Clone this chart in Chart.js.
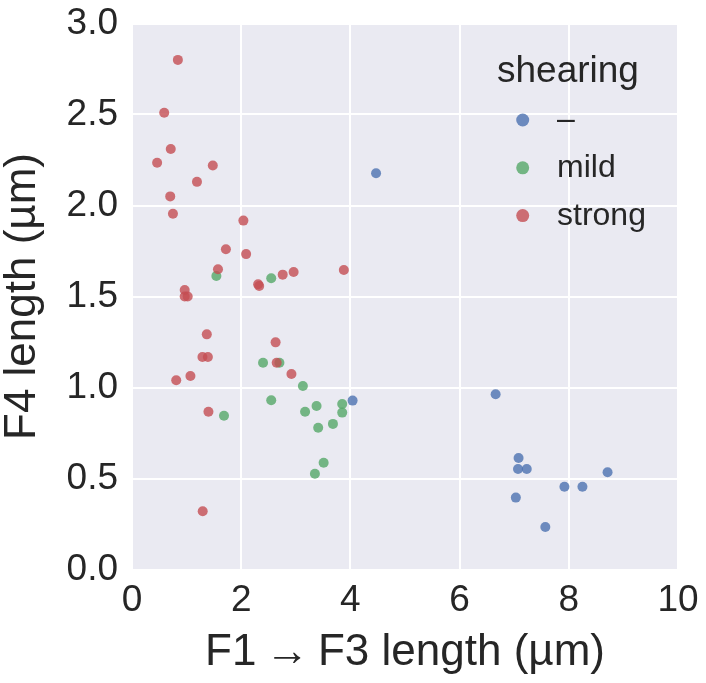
<!DOCTYPE html>
<html>
<head>
<meta charset="utf-8">
<script src="https://cdn.jsdelivr.net/npm/chart.js@4.4.1/dist/chart.umd.min.js"></script>
<style>
  html, body { margin: 0; padding: 0; background: #fff; }
</style>
</head>
<body>
<canvas id="chart" width="706" height="683"></canvas>
<script>
// categories (hue levels)
const shearLevels = ['\u2013', 'mild', 'strong'];

// "–" group
const noneX = [4.47, 4.04, 6.66, 7.08, 7.07, 7.23, 8.71, 7.92, 8.25, 7.03, 7.57];
const noneY = [2.177, 0.928, 0.963, 0.613, 0.552, 0.552, 0.534, 0.455, 0.455, 0.395, 0.234];

// mild group
const mildX = [1.545, 2.55, 2.40, 2.70, 3.13, 2.55, 3.38, 3.85, 3.17, 3.85, 3.41, 3.68, 3.51, 3.35, 1.685];
const mildY = [1.613, 1.60, 1.136, 1.136, 1.008, 0.93, 0.898, 0.909, 0.867, 0.862, 0.779, 0.80, 0.587, 0.526, 0.845];

// strong group
const strongX = [0.84, 0.59, 0.71, 0.46, 1.48, 1.19, 0.70, 0.75, 2.04, 1.72, 2.09, 1.575, 2.31, 2.33, 2.76,
                 2.96, 3.88, 0.965, 0.965, 1.02, 1.37, 2.63, 1.29, 1.39, 2.65, 2.92, 0.81, 1.07, 1.40, 1.295];
const strongY = [2.80, 2.51, 2.31, 2.235, 2.22, 2.13, 2.05, 1.955, 1.917, 1.76, 1.733, 1.65, 1.567, 1.558, 1.62,
                 1.635, 1.646, 1.536, 1.50, 1.50, 1.292, 1.248, 1.168, 1.168, 1.136, 1.074, 1.04, 1.063, 0.867, 0.32];

// tick labels
const xTicks = [0, 2, 4, 6, 8, 10];
const yTicks = ['0.0', '0.5', '1.0', '1.5', '2.0', '2.5', '3.0'];

const colors = ['rgba(76,114,176,0.8)', 'rgba(85,168,104,0.8)', 'rgba(196,78,82,0.8)'];
const FONT = '"Liberation Sans", Arial, sans-serif';
const TXT = '#262626';

const toPoints = (xs, ys) => xs.map((x, i) => ({ x: x, y: ys[i] }));

// grey panel behind the data
const panelBg = {
  id: 'panelBg',
  beforeDraw(chart) {
    const a = chart.chartArea, ctx = chart.ctx;
    ctx.save();
    ctx.fillStyle = '#EAEAF2';
    ctx.fillRect(a.left, a.top, a.right - a.left, a.bottom - a.top);
    ctx.restore();
  }
};

// legend drawn inside the panel, top right
const innerLegend = {
  id: 'innerLegend',
  afterDatasetsDraw(chart) {
    const ctx = chart.ctx;
    ctx.save();
    ctx.fillStyle = TXT;
    ctx.textBaseline = 'alphabetic';
    ctx.textAlign = 'left';
    ctx.font = '37px ' + FONT;
    ctx.fillText('shearing', 497, 82);
    ctx.font = '32px ' + FONT;
    chart.data.datasets.forEach((ds, i) => {
      const y = 120 + i * 47.8;
      ctx.beginPath();
      ctx.arc(522.7, y, 6.5, 0, Math.PI * 2);
      ctx.fillStyle = ds.backgroundColor;
      ctx.fill();
      ctx.fillStyle = TXT;
      ctx.fillText(ds.label, 557, y + 9);
    });
    ctx.restore();
  }
};

new Chart(document.getElementById('chart'), {
  type: 'scatter',
  data: {
    datasets: [
      { label: shearLevels[0], data: toPoints(noneX, noneY), backgroundColor: colors[0], order: 3 },
      { label: shearLevels[1], data: toPoints(mildX, mildY), backgroundColor: colors[1], order: 2 },
      { label: shearLevels[2], data: toPoints(strongX, strongY), backgroundColor: colors[2], order: 1 }
    ]
  },
  options: {
    responsive: false,
    animation: false,
    layout: { padding: { left: 0, right: 28, top: 23.5, bottom: 0 } },
    elements: { point: { radius: 5, borderWidth: 0, hoverRadius: 5 } },
    plugins: { legend: { display: false }, tooltip: { enabled: false } },
    scales: {
      x: {
        type: 'linear', min: 0, max: 10,
        afterBuildTicks: s => { s.ticks = xTicks.map(v => ({ value: v })); },
        afterFit: s => { s.height = 113.5; s.paddingLeft = 0; s.paddingRight = 0; },
        ticks: { font: { family: FONT, size: 37 }, color: TXT, padding: 9.5, callback: v => String(v) },
        grid: { color: '#ffffff', lineWidth: 2, drawTicks: false },
        border: { display: false },
        title: {
          display: true, text: 'F1\u2009\u2192\u2009F3 length (\u00b5m)', color: TXT,
          font: { family: FONT, size: 44, lineHeight: 1.0 }, padding: { top: 0, bottom: 8 }
        }
      },
      y: {
        type: 'linear', min: 0, max: 3,
        afterBuildTicks: s => { s.ticks = yTicks.map(v => ({ value: parseFloat(v) })); },
        afterFit: s => { s.width = 132; s.paddingTop = 0; s.paddingBottom = 0; },
        ticks: { font: { family: FONT, size: 37 }, color: TXT, padding: 14, callback: (v, i) => yTicks[i] },
        grid: { color: '#ffffff', lineWidth: 2, drawTicks: false },
        border: { display: false },
        title: {
          display: true, text: 'F4 length (\u00b5m)', color: TXT,
          font: { family: FONT, size: 44, lineHeight: 1.0 }, padding: { top: 1, bottom: 0 }
        }
      }
    }
  },
  plugins: [panelBg, innerLegend]
});
</script>
</body>
</html>
